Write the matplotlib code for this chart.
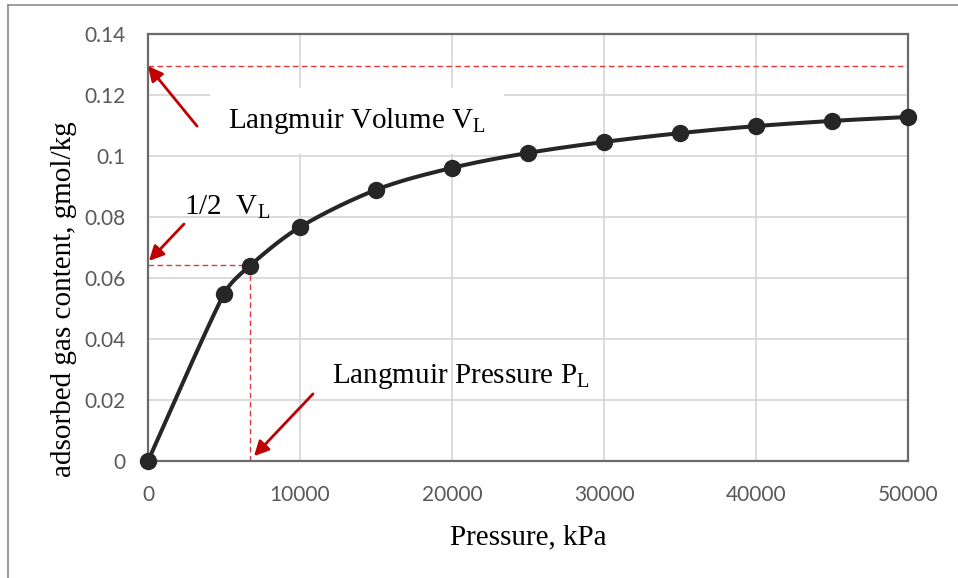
import numpy as np
import matplotlib
matplotlib.use("Agg")
import matplotlib.pyplot as plt
from matplotlib.lines import Line2D

# data
pressure = [0, 5000, 6700, 10000, 15000, 20000, 25000, 30000, 35000, 40000, 45000, 50000]
gas_content = [0, 0.0548, 0.0640, 0.0767, 0.0889, 0.0961, 0.1010, 0.1046, 0.1075, 0.1098, 0.1115, 0.1128]
v_l = 0.1295
half_v_l = 0.0643
p_l = 6700
x_ticks = [0, 10000, 20000, 30000, 40000, 50000]
y_ticks = [0, 0.02, 0.04, 0.06, 0.08, 0.1, 0.12, 0.14]
y_tick_labels = ["0", "0.02", "0.04", "0.06", "0.08", "0.1", "0.12", "0.14"]

plt.rcParams['mathtext.fontset'] = 'custom'
plt.rcParams['mathtext.rm'] = 'Liberation Serif'
plt.rcParams['mathtext.it'] = 'Liberation Serif'

serif = 'Liberation Serif'
red = '#C00000'
dash_red = '#E0383B'


def smooth(xs, ys, n=40):
    # catmull-rom style bezier (Excel smoothed line), handles clamped to a third of the segment
    sx, sy = 50000.0, 0.14 * 760 / 427
    P = np.column_stack([np.asarray(xs, float) / sx, np.asarray(ys, float) / sy])
    Pe = np.vstack([P[0], P, P[-1]])
    D = (Pe[2:] - Pe[:-2]) / 6
    t = np.linspace(0, 1, n)[:, None]
    out = []
    for i in range(len(P) - 1):
        d = np.linalg.norm(P[i + 1] - P[i])
        h1, h2 = D[i].copy(), D[i + 1].copy()
        for h in (h1, h2):
            L = np.linalg.norm(h)
            if L > d / 3:
                h *= (d / 3) / L
        b0, b3 = P[i], P[i + 1]
        b1 = b0 + h1
        b2 = b3 - h2
        out.append((1 - t) ** 3 * b0 + 3 * (1 - t) ** 2 * t * b1 + 3 * (1 - t) * t ** 2 * b2 + t ** 3 * b3)
    out = np.vstack(out)
    return out[:, 0] * sx, out[:, 1] * sy


fig = plt.figure(figsize=(9.58, 5.78), dpi=100)
ax = fig.add_axes([148 / 958, 1 - 461 / 578, 760 / 958, 427 / 578])

# outer chart border (left and top visible)
fig.add_artist(Line2D([8 / 958, 8 / 958], [0, 1 - 5 / 578], color='#8c8c8c', lw=1.2))
fig.add_artist(Line2D([8 / 958, 1], [1 - 5 / 578, 1 - 5 / 578], color='#8c8c8c', lw=1.2))

ax.set_xlim(0, 50000)
ax.set_ylim(0, 0.14)
ax.set_xticks(x_ticks)
ax.set_yticks(y_ticks)
ax.set_yticklabels(y_tick_labels)
ax.grid(True, color='#D9D9D9', lw=1.3, zorder=0)
ax.set_axisbelow(True)
ax.tick_params(length=0, labelsize=15, labelcolor='#595959')
ax.tick_params(axis='x', pad=17)
ax.tick_params(axis='y', pad=16)
for lab in ax.get_xticklabels() + ax.get_yticklabels():
    lab.set_family('Lato')
for sp in ax.spines.values():
    sp.set_color('#6b6b6b')
    sp.set_linewidth(1.6)

# dashed guide lines
ax.plot([0, 50000], [v_l, v_l], color=dash_red, lw=1.0, ls=(0, (4, 2.5)), zorder=2)
ax.plot([0, p_l], [half_v_l, half_v_l], color=dash_red, lw=1.0, ls=(0, (4, 2.5)), zorder=2)
ax.plot([p_l, p_l], [0, half_v_l], color=dash_red, lw=1.0, ls=(0, (4, 2.5)), zorder=2)

sx, sy = smooth(pressure, gas_content)
ax.plot(sx, sy, color='#262626', lw=2.9, zorder=3, clip_on=False, solid_capstyle='round')
ax.plot(pressure, gas_content, 'o', color='#262626', ms=11.5, zorder=4, clip_on=False)

box = dict(facecolor='white', edgecolor='none', pad=13)
ax.text(5263, 0.1092, 'Langmuir Volume V$_\\mathregular{L}$', family=serif, fontsize=21,
        va='baseline', ha='left', bbox=box, zorder=2.5)
ax.text(2368, 0.0807, '1/2  V$_\\mathregular{L}$', family=serif, fontsize=21,
        va='baseline', ha='left', zorder=5)
ax.text(12105, 0.0256, 'Langmuir Pressure P$_\\mathregular{L}$', family=serif, fontsize=21,
        va='baseline', ha='left', zorder=5)

arrow = dict(arrowstyle='-|>', color=red, lw=2.0, mutation_scale=22, shrinkA=0, shrinkB=0)
ax.annotate('', xy=(0, v_l), xytext=(3224, 0.1098), arrowprops=arrow, zorder=6)
ax.annotate('', xy=(66, 0.0656), xytext=(2368, 0.0777), arrowprops=arrow, zorder=6)
ax.annotate('', xy=(6974, 0.0016), xytext=(10855, 0.0220), arrowprops=arrow, zorder=6)

ax.set_xlabel('Pressure, kPa', family=serif, fontsize=21, labelpad=14)
ax.set_ylabel('adsorbed gas content, gmol/kg', family=serif, fontsize=21)
ax.yaxis.set_label_coords(-0.093, 0.38)

fig.savefig('out.png', dpi=100)
